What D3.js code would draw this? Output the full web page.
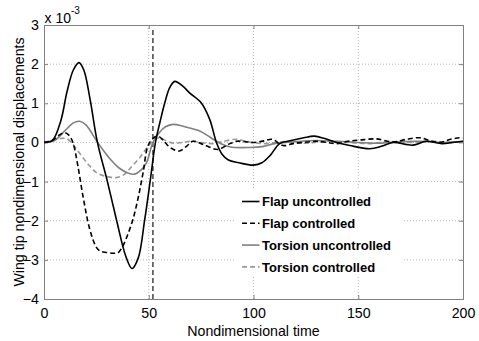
<!DOCTYPE html>
<html><head><meta charset="utf-8">
<script src="https://cdn.jsdelivr.net/npm/d3@7"></script>
<style>body{margin:0;background:#fff}svg{display:block;font-family:"Liberation Sans",Arial,sans-serif}</style>
</head><body><svg id="c" width="479" height="341"></svg>
<script>
const xTicks = [0, 50, 100, 150, 200];
const yTicks = [-4, -3, -2, -1, 0, 1, 2, 3];
const seriesNames = ["Flap uncontrolled", "Flap controlled", "Torsion uncontrolled", "Torsion controlled"];

const flapUncT = [0,4,8,11,14,16.7,19,22,25.5,30,34.7,39,42,45,48,50.8,53.2,55.5,57.6,60,62.4,66.4,69.6,75.1,79.1,82.3,85,88,93,100,104,108,112.5,118,124,129,134,139.6,146,155.5,161,166.5,176,182.5,190,195,200];
const flapUncV = [0,0.05,0.55,1.3,1.85,2.04,1.85,1.1,0,-0.94,-2.0,-2.9,-3.22,-2.95,-2.0,-0.94,0,0.55,1.0,1.4,1.56,1.43,1.26,1.01,0.59,0,-0.3,-0.45,-0.52,-0.58,-0.52,-0.33,-0.03,0.05,0.12,0.16,0.1,0,-0.08,-0.16,-0.1,0,-0.07,0.03,-0.03,0,0.03];

const flapConT = [0,4,7,9.9,12,13.8,16,18.6,21.8,25,27,29.8,33,35.3,37.7,40,42.5,45,47.3,49.6,52,54.4,57,60,64.6,68,71.1,76,83,88,91.8,96,100,105,109,114,119,124,130,135,139.6,145,150.7,158.7,166.6,173,179.3,184,188.9,194,198.4,200];
const flapConV = [0,0.05,0.18,0.25,0.18,0,-0.55,-1.37,-2.21,-2.68,-2.78,-2.81,-2.83,-2.82,-2.64,-2.35,-1.96,-1.4,-0.77,-0.09,0.1,0.16,0.05,-0.12,-0.22,-0.1,0.03,-0.05,-0.18,-0.05,0.03,0.02,0.0,0.04,0.08,-0.08,-0.03,0,0.03,0,-0.03,0.03,0.06,0.09,0.01,0.08,0.12,0.05,0.0,0.08,0.12,0.12];

const torUncT = [0,5,10,14,17,20,25,28,32,36,40,43.3,46,48.9,52,55,58,61.6,66,70,74.3,78,82.3,88.6,98.2,105,110,120,130,140,150,160,170,180,190,200];
const torUncV = [0,0.05,0.3,0.5,0.54,0.45,0.05,-0.18,-0.45,-0.66,-0.78,-0.81,-0.72,-0.52,0,0.25,0.4,0.46,0.42,0.36,0.29,0.18,0.03,-0.11,-0.13,-0.1,-0.03,0.02,0.05,0.03,0,-0.02,0.02,0.03,0.0,0.02];

const torConT = [0,4,8,10.7,13,16,19,21.8,25,29.8,34.5,38,40,43,45.7,48,50.5,53,55.2,58,62,66,70,75,80,85,91.8,97,105,115,125,135,145,155,165,175,185,195,200];
const torConV = [0,0.05,0.1,0.1,0.0,-0.2,-0.42,-0.6,-0.77,-0.87,-0.9,-0.83,-0.73,-0.55,-0.39,-0.22,-0.05,0.08,0.12,0.05,-0.02,0.0,0.03,0.0,-0.03,0.02,0.08,0.02,-0.03,0.02,-0.02,0.03,0.0,-0.03,0.02,0.0,0.03,0.0,0.02];

const markerT = [52, 52];
const markerV = [-4, 2.9];

const svg = d3.select("#c");
const L = 44, R = 463, T = 25, B = 299;
const x = d3.scaleLinear().domain([0, 200]).range([L, R]);
const y = d3.scaleLinear().domain([-4, 3]).range([B, T]);
const axisCol = "#808080";
const FS = "14.2px";

// grid
const g = svg.append("g");
g.selectAll(".gx").data(xTicks.slice(1, -1)).join("line")
  .attr("x1", d => x(d)).attr("x2", d => x(d)).attr("y1", T).attr("y2", B)
  .attr("stroke", "#b8b8b8").attr("stroke-width", 1).attr("stroke-dasharray", "1,2");
g.selectAll(".gy").data(yTicks.slice(1, -1)).join("line")
  .attr("y1", d => y(d)).attr("y2", d => y(d)).attr("x1", L).attr("x2", R)
  .attr("stroke", "#b8b8b8").attr("stroke-width", 1).attr("stroke-dasharray", "1,2");

// axes
const xa = svg.append("g").attr("transform", `translate(0,${B})`)
  .call(d3.axisBottom(x).tickValues(xTicks).tickSize(-4).tickPadding(9).tickFormat(d3.format("d")));
const xa2 = svg.append("g").attr("transform", `translate(0,${T})`)
  .call(d3.axisTop(x).tickValues(xTicks).tickSize(-4).tickFormat(""));
const ya = svg.append("g").attr("transform", `translate(${L},0)`)
  .call(d3.axisLeft(y).tickValues(yTicks).tickSize(-4).tickPadding(5).tickFormat(d3.format("d")));
const ya2 = svg.append("g").attr("transform", `translate(${R},0)`)
  .call(d3.axisRight(y).tickValues(yTicks).tickSize(-4).tickFormat(""));
[xa, xa2, ya, ya2].forEach(a => {
  a.select(".domain").attr("stroke", axisCol);
  a.selectAll(".tick line").attr("stroke", axisCol);
  a.selectAll("text").attr("fill", "#000").style("font-size", FS).style("font-family", '"Liberation Sans",Arial,sans-serif');
});
xa.selectAll("text").attr("dy", "0.71em");

// clip
svg.append("clipPath").attr("id", "clip").append("rect")
  .attr("x", L).attr("y", T).attr("width", R - L).attr("height", B - T);

const line = d3.line().x(d => x(d[0])).y(d => y(d[1])).curve(d3.curveCatmullRom.alpha(0.5));
const zip = (a, b) => a.map((t, i) => [t, b[i]]);
const series = [
  {name: seriesNames[0], d: zip(flapUncT, flapUncV), c: "#000", dash: null},
  {name: seriesNames[1], d: zip(flapConT, flapConV), c: "#000", dash: "5,3"},
  {name: seriesNames[2], d: zip(torUncT, torUncV), c: "#808080", dash: null},
  {name: seriesNames[3], d: zip(torConT, torConV), c: "#999999", dash: "5,3"}
];
const pl = svg.append("g").attr("clip-path", "url(#clip)");
pl.append("path").attr("d", d3.line().x(d => x(d[0])).y(d => y(d[1]))(zip(markerT, markerV)))
  .attr("stroke", "#000").attr("stroke-width", 1.1).attr("stroke-dasharray", "5,3").attr("fill", "none");
[3, 2, 1, 0].forEach(i => {
  const s = series[i];
  pl.append("path").attr("d", line(s.d)).attr("fill", "none")
    .attr("stroke", s.c).attr("stroke-width", 1.6)
    .attr("stroke-dasharray", s.dash);
});

// legend
const lg = svg.append("g");
lg.append("rect").attr("x", 236).attr("y", 188).attr("width", 168).attr("height", 89).attr("fill", "#fff");
series.forEach((s, i) => {
  const yy = 201.5 + i * 21.8;
  lg.append("line").attr("x1", 242).attr("x2", 259.5).attr("y1", yy).attr("y2", yy)
    .attr("stroke", s.c).attr("stroke-width", 1.6).attr("stroke-dasharray", s.dash);
  lg.append("text").attr("x", 262).attr("y", yy + 4.6).text(s.name)
    .style("font-size", "13px").style("font-weight", "bold").attr("fill", "#000");
});

// labels
svg.append("text").attr("x", x(100)).attr("y", 336).attr("text-anchor", "middle")
  .style("font-size", FS).text("Nondimensional time");
svg.append("text").attr("transform", `translate(24,${(T + B) / 2}) rotate(-90)`)
  .attr("text-anchor", "middle").style("font-size", FS).text("Wing tip nondimensional displacements");
const ex = svg.append("text").attr("x", 44.5).attr("y", 23).style("font-size", "14px");
ex.append("tspan").text("x 10");
ex.append("tspan").attr("dy", -9).style("font-size", "10px").text("-3");
</script></body></html>
